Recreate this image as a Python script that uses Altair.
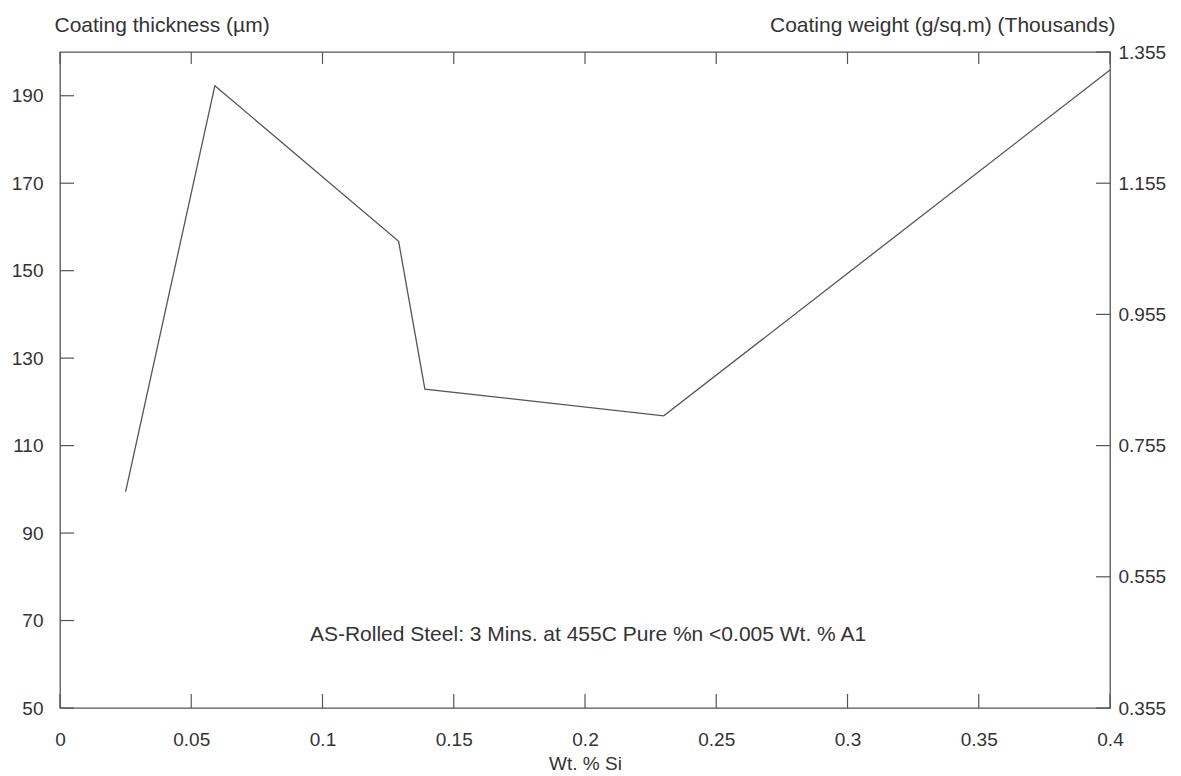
import altair as alt
import pandas as pd

# Data
si = [0.025, 0.059, 0.129, 0.139, 0.23, 0.4]
thickness = [99.5, 192.3, 156.7, 122.9, 116.8, 195.9]

x_ticks = [0, 0.05, 0.1, 0.15, 0.2, 0.25, 0.3, 0.35, 0.4]
left_ticks = [50, 70, 90, 110, 130, 150, 170, 190]
right_ticks = [0.355, 0.555, 0.755, 0.955, 1.155, 1.355]

note = "AS-Rolled Steel: 3 Mins. at 455C Pure %n <0.005 Wt. % A1"

W, H = 1050, 656
FONT = "Liberation Sans"
INK = "#333333"
LINE = "#555555"
FS = 19
TFS = 21

line_df = pd.DataFrame({"si": si, "thick": thickness})
xt_df = pd.DataFrame({"si": x_ticks})
lt_df = pd.DataFrame({"t": left_ticks})
rt_df = pd.DataFrame({"w": right_ticks})

xscale = alt.Scale(domain=[0, 0.4], nice=False, zero=False)
lscale = alt.Scale(domain=[50, 200], nice=False, zero=False)
rscale = alt.Scale(domain=[0.355, 1.355], nice=False, zero=False)

x_axis = alt.Axis(
    values=x_ticks, format="~g", title="Wt. % Si", grid=False, ticks=False,
    domain=False, labelPadding=22, titlePadding=5, labelFlush=False,
    labelFontSize=FS, titleFontSize=FS,
)
left_axis = alt.Axis(
    values=left_ticks, title="Coating thickness (µm)", grid=False, ticks=False,
    domain=False, labelPadding=17, titleAngle=0, titleAlign="left",
    titleBaseline="middle", titleX=-6, titleY=-27,
)
right_axis = alt.Axis(
    orient="right", values=right_ticks, format=".3f",
    title="Coating weight (g/sq.m) (Thousands)", grid=False, ticks=False,
    domain=False, labelPadding=8, titleAngle=0, titleAlign="right",
    titleBaseline="middle", titleX=5, titleY=-27, labelFlush=False,
)

line = alt.Chart(line_df).mark_line(color=LINE, strokeWidth=1.3).encode(
    x=alt.X("si:Q", scale=xscale, axis=x_axis),
    y=alt.Y("thick:Q", scale=lscale, axis=left_axis),
)

left_tick_marks = alt.Chart(lt_df).mark_rule(color=LINE, strokeWidth=1.2).encode(
    y=alt.Y("t:Q", scale=lscale, axis=None),
    x=alt.value(0), x2=alt.value(14),
)

right_tick_marks = alt.Chart(rt_df).mark_rule(color=LINE, strokeWidth=1.2).encode(
    y=alt.Y("w:Q", scale=rscale, axis=right_axis),
    x=alt.value(W), x2=alt.value(W - 14),
)

bottom_ticks = alt.Chart(xt_df).mark_rule(color=LINE, strokeWidth=1.2).encode(
    x=alt.X("si:Q", scale=xscale, axis=x_axis),
    y=alt.value(H), y2=alt.value(H - 14),
)

top_ticks = alt.Chart(xt_df).mark_rule(color=LINE, strokeWidth=1.2).encode(
    x=alt.X("si:Q", scale=xscale, axis=x_axis),
    y=alt.value(0), y2=alt.value(12),
)

annotation = alt.Chart(pd.DataFrame({"label": [note]})).mark_text(
    font=FONT, fontSize=TFS, color=INK, align="center", baseline="middle"
).encode(
    text="label:N", x=alt.value(528), y=alt.value(583),
)

chart = alt.layer(
    line, left_tick_marks, bottom_ticks, top_ticks, annotation, right_tick_marks
).resolve_scale(y="independent").properties(
    width=W, height=H,
    autosize=alt.AutoSizeParams(type="none"),
    padding={"left": 60, "top": 52, "right": 71, "bottom": 68},
    background="white",
).configure_view(
    stroke=LINE, strokeWidth=1.3
).configure_axis(
    labelFont=FONT, titleFont=FONT, labelFontSize=FS, titleFontSize=TFS,
    labelColor=INK, titleColor=INK, titleFontWeight="normal",
)

chart.save("out.html", embed_options={"renderer": "svg", "actions": False})
